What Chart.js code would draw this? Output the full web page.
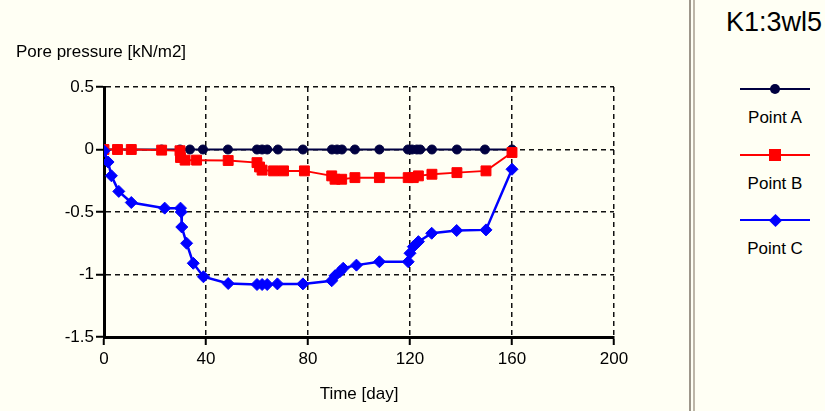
<!DOCTYPE html>
<html>
<head>
<meta charset="utf-8">
<script src="https://cdn.jsdelivr.net/npm/chart.js@4"></script>
<style>
  html, body { margin: 0; padding: 0; background: #fffff4; }
  body { width: 825px; height: 411px; position: relative; overflow: hidden;
         font-family: "Liberation Sans", Arial, sans-serif; color: #000; }
  #chartBox { position: absolute; left: 0; top: 0; width: 690px; height: 411px; }
  #yTitle { position: absolute; left: 16px; top: 43px; font-size: 17px; line-height: 1; white-space: nowrap; }
  .sep { position: absolute; top: 0; width: 2px; height: 411px; }
  #panelTitle { position: absolute; right: 3px; top: 9px; font-size: 27px; line-height: 1; white-space: nowrap; }
  .legLine { position: absolute; left: 740px; width: 70px; height: 2px; }
  .legMark { position: absolute; }
  .legText { position: absolute; left: 725px; width: 100px; text-align: center; font-size: 17px; line-height: 1; }
</style>
</head>
<body>
<div id="chartBox"><canvas id="poreChart" width="690" height="411"></canvas></div>
<div id="yTitle">Pore pressure [kN/m2]</div>
<div class="sep" style="left:689px;background:#9d968a;"></div>
<div class="sep" style="left:693px;background:#bdb6a8;"></div>
<div id="panelTitle">K1:3wl5</div>
<div id="legend"></div>
<script>
// series names and colours
const seriesNames = ['Point A', 'Point B', 'Point C'];
const seriesColors = ['#000040', '#ff0000', '#0000ff'];

// axis ticks
const xTicks = [0, 40, 80, 120, 160, 200];
const yTicks = [0.5, 0, -0.5, -1, -1.5];

// Point A
const timeA = [0, 5.3, 10.7, 22.6, 29.8, 33.7, 38.8, 48.6, 60, 62, 64, 68.2, 78, 89.4, 91.4, 93.3, 98.4, 108, 119.2, 120.8, 122.7, 124, 128.6, 138.4, 149.4, 160];
const pressureA = [0, 0, 0, 0, 0, 0, 0, 0, 0, 0, 0, 0, 0, 0, 0, 0, 0, 0, 0, 0, 0, 0, 0, 0, 0, 0];

// Point B
const timeB = [0, 5.3, 10.7, 22.6, 29.8, 30.0, 31.8, 36.3, 48.7, 60, 61, 62, 66.5, 70.4, 78.6, 89.3, 90.6, 93.2, 98.4, 108, 119.3, 121.3, 123.3, 128.6, 138.4, 149.8, 160];
const pressureB = [0, 0, 0, -0.005, -0.01, -0.064, -0.085, -0.085, -0.088, -0.105, -0.14, -0.165, -0.171, -0.171, -0.171, -0.211, -0.238, -0.238, -0.225, -0.225, -0.225, -0.225, -0.211, -0.198, -0.185, -0.171, -0.024];

// Point C
const timeC = [0, 1.6, 2.9, 5.8, 10.7, 23.8, 30.0, 30.3, 30.5, 32.4, 35, 39, 48.7, 60, 62, 64, 68, 78, 89.3, 90.6, 92.5, 93.8, 99, 108, 119.3, 120, 121.3, 123.3, 128.5, 138.3, 149.8, 160];
const pressureC = [-0.01, -0.10, -0.21, -0.335, -0.424, -0.469, -0.469, -0.50, -0.62, -0.75, -0.91, -1.018, -1.072, -1.08, -1.08, -1.08, -1.075, -1.075, -1.05, -1.01, -0.977, -0.95, -0.925, -0.898, -0.898, -0.83, -0.777, -0.737, -0.67, -0.648, -0.643, -0.158];

const pointStyles = ['circle', 'rect', 'rectRot'];
const pointSizes = [4.5, 7, 6];

document.addEventListener("DOMContentLoaded", function () {
    renderPoreChart();
    renderLegend();
});

function toPoints(times, values) {
    return times.map((t, i) => ({ x: t, y: values[i] }));
}

function renderPoreChart() {
    Chart.defaults.font.family = '"Liberation Sans", Arial, sans-serif';
    Chart.defaults.font.size = 17;
    Chart.defaults.color = '#000';

    const series = [[timeA, pressureA], [timeB, pressureB], [timeC, pressureC]];
    const datasets = series.map((s, i) => ({
        label: seriesNames[i],
        data: toPoints(s[0], s[1]),
        borderColor: seriesColors[i],
        backgroundColor: seriesColors[i],
        borderWidth: i === 2 ? 2.5 : 2,
        pointStyle: pointStyles[i],
        pointRadius: pointSizes[i],
        pointBorderWidth: 1,
        pointBackgroundColor: seriesColors[i],
        pointBorderColor: seriesColors[i],
        tension: 0,
        order: 2 - i // C on top, A at the bottom
    }));

    const gridOpts = {
        color: '#111',
        lineWidth: 1.5,
        tickLength: 8,
        tickColor: '#000',
        tickWidth: 2,
        tickBorderDash: []
    };

    new Chart(document.getElementById('poreChart'), {
        type: 'line',
        data: { datasets: datasets },
        options: {
            responsive: false,
            animation: false,
            layout: { padding: { top: 87, right: 76, left: 0, bottom: 0 } },
            plugins: {
                legend: { display: false },
                tooltip: { enabled: false }
            },
            scales: {
                x: {
                    type: 'linear',
                    min: 0,
                    max: 200,
                    afterBuildTicks: scale => { scale.ticks = xTicks.map(v => ({ value: v })); },
                    afterFit: scale => { scale.height = 74; },
                    grid: gridOpts,
                    border: { color: '#000', width: 3, dash: [5, 4] },
                    ticks: { padding: 4, maxRotation: 0, callback: v => String(v) },
                    title: { display: true, text: 'Time [day]', padding: { top: 0, bottom: 6 } }
                },
                y: {
                    min: -1.5,
                    max: 0.5,
                    afterBuildTicks: scale => { scale.ticks = yTicks.map(v => ({ value: v })); },
                    afterFit: scale => { scale.width = 104; },
                    grid: gridOpts,
                    border: { color: '#000', width: 3, dash: [5, 4] },
                    ticks: { padding: 2, callback: v => String(v) }
                }
            }
        }
    });
}

// Legend on the right: line with marker, label underneath
function renderLegend() {
    const legend = document.getElementById('legend');
    const lineY = [89, 155, 220];
    const textTop = [109, 175, 240];
    const markSize = [10, 12, 11];

    seriesNames.forEach((name, i) => {
        const line = document.createElement('div');
        line.className = 'legLine';
        line.style.top = (lineY[i] - 1) + 'px';
        line.style.background = seriesColors[i];
        legend.appendChild(line);

        const mark = document.createElement('div');
        mark.className = 'legMark';
        const sz = markSize[i];
        mark.style.width = sz + 'px';
        mark.style.height = sz + 'px';
        mark.style.left = (775 - sz / 2) + 'px';
        mark.style.top = (lineY[i] - sz / 2) + 'px';
        mark.style.background = seriesColors[i];
        if (i === 0) mark.style.borderRadius = '50%';
        if (i === 2) {
            mark.style.transform = 'rotate(45deg) scale(0.85)';
        }
        legend.appendChild(mark);

        const text = document.createElement('div');
        text.className = 'legText';
        text.style.top = textTop[i] + 'px';
        text.textContent = name;
        legend.appendChild(text);
    });
}
</script>
</body>
</html>
